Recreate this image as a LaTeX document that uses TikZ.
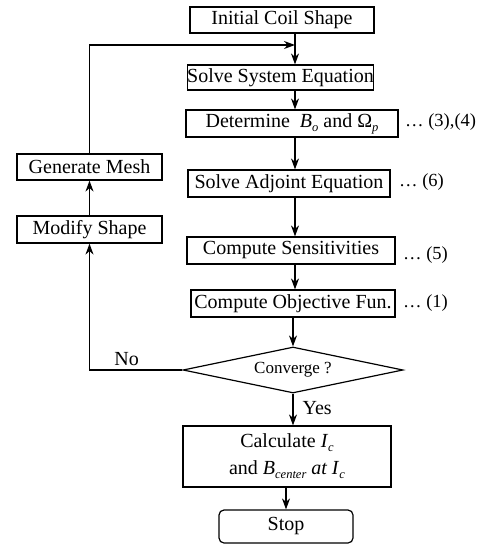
\documentclass[tikz,border=0pt]{standalone}
\usepackage{fontspec}
\setmainfont{Liberation Serif}
\usetikzlibrary{arrows.meta,shapes.geometric}

% small italic subscript set in text
\newcommand{\lowsub}[1]{\raisebox{-0.45ex}{\fontsize{12.5}{12.5}\selectfont\itshape #1}}

\tikzset{
  every node/.style={font=\fontsize{20}{22}\selectfont, inner sep=0pt},
  stepbox/.style={draw, line width=1.2pt, minimum height=26pt},
  flow/.style={line width=1.2pt, -{Stealth[length=11pt,width=8pt]}},
  eqref/.style={anchor=west, font=\fontsize{18.5}{20}\selectfont},
}

\begin{document}
\begin{tikzpicture}[x=1pt,y=-1pt]
\useasboundingbox (0,0) rectangle (485,545);

% main column
\node[stepbox, minimum width=184pt] (init) at (282,20) {Initial Coil Shape};
\node[stepbox, minimum width=185pt, minimum height=25pt] (solve) at (280.5,77.5) {Solve System Equation};
\node[stepbox, minimum width=212pt, minimum height=27pt] (det) at (292,123.5)
  {Determine\ \ \textit{B}\lowsub{o} and Ω\lowsub{p}};
\node[stepbox, minimum width=202pt, minimum height=27pt] (adj) at (289,183.5) {Solve Adjoint Equation};
\node[stepbox, minimum width=208pt, minimum height=27pt] (sens) at (291,250.5) {Compute Sensitivities\hspace{12pt}};
\node[stepbox, minimum width=204pt, minimum height=27pt] (obj) at (293,303.5) {Compute Objective Fun.};
\node[draw, diamond, line width=1.2pt, shape aspect=4.8, minimum width=220pt, minimum height=46pt,
      font=\fontsize{17}{19}\selectfont] (conv) at (293,370) {Converge ?};
\node[stepbox, minimum width=208pt, minimum height=61pt, align=center,
      font=\fontsize{20}{27}\selectfont] (calc) at (287,456.5)
  {Calculate \textit{I}\lowsub{c}\\ and \textit{B}\lowsub{center} \textit{at I}\lowsub{c}};
\node[stepbox, rounded corners=5pt, minimum width=134pt, minimum height=33pt] (stop) at (286,526.5) {Stop};

% equation references
\node[eqref] (r34) at (405,122) {… (3),(4)};
\node[eqref] (r6) at (399,182) {… (6)};
\node[eqref] (r5) at (403,255) {… (5)};
\node[eqref] (r1) at (403,303) {… (1)};

% feedback column
\node[stepbox, minimum width=145pt, minimum height=26pt] (gen) at (89.5,167) {Generate Mesh};
\node[stepbox, minimum width=145pt, minimum height=27pt] (mod) at (89.5,229.5) {Modify Shape};

% connectors
\coordinate (axis) at (295,0);
\coordinate (join) at (295,45);
\draw[flow] (init.south -| axis) -- (solve.north -| axis);
\draw[flow] (solve.south -| axis) -- (det.north -| axis);
\draw[flow] (det.south -| axis) -- (adj.north -| axis);
\draw[flow] (adj.south -| axis) -- (sens.north -| axis);
\draw[flow] (sens.south -| axis) -- (obj.north -| axis);
\draw[flow] (obj.south -| conv.north) -- (conv.north);
\draw[flow] (conv.south) -- (calc.north -| conv.south) node[pos=0.45, right=9pt] (yes) {Yes};
\draw[flow] (calc.south -| stop.north) -- (stop.north);

\draw[flow] (conv.west) -| (mod.south) node[pos=0.3, above=4pt] (no) {No};
\draw[flow] (mod.north) -- (gen.south);
\draw[flow] (gen.north) |- (join);
\end{tikzpicture}
\end{document}
